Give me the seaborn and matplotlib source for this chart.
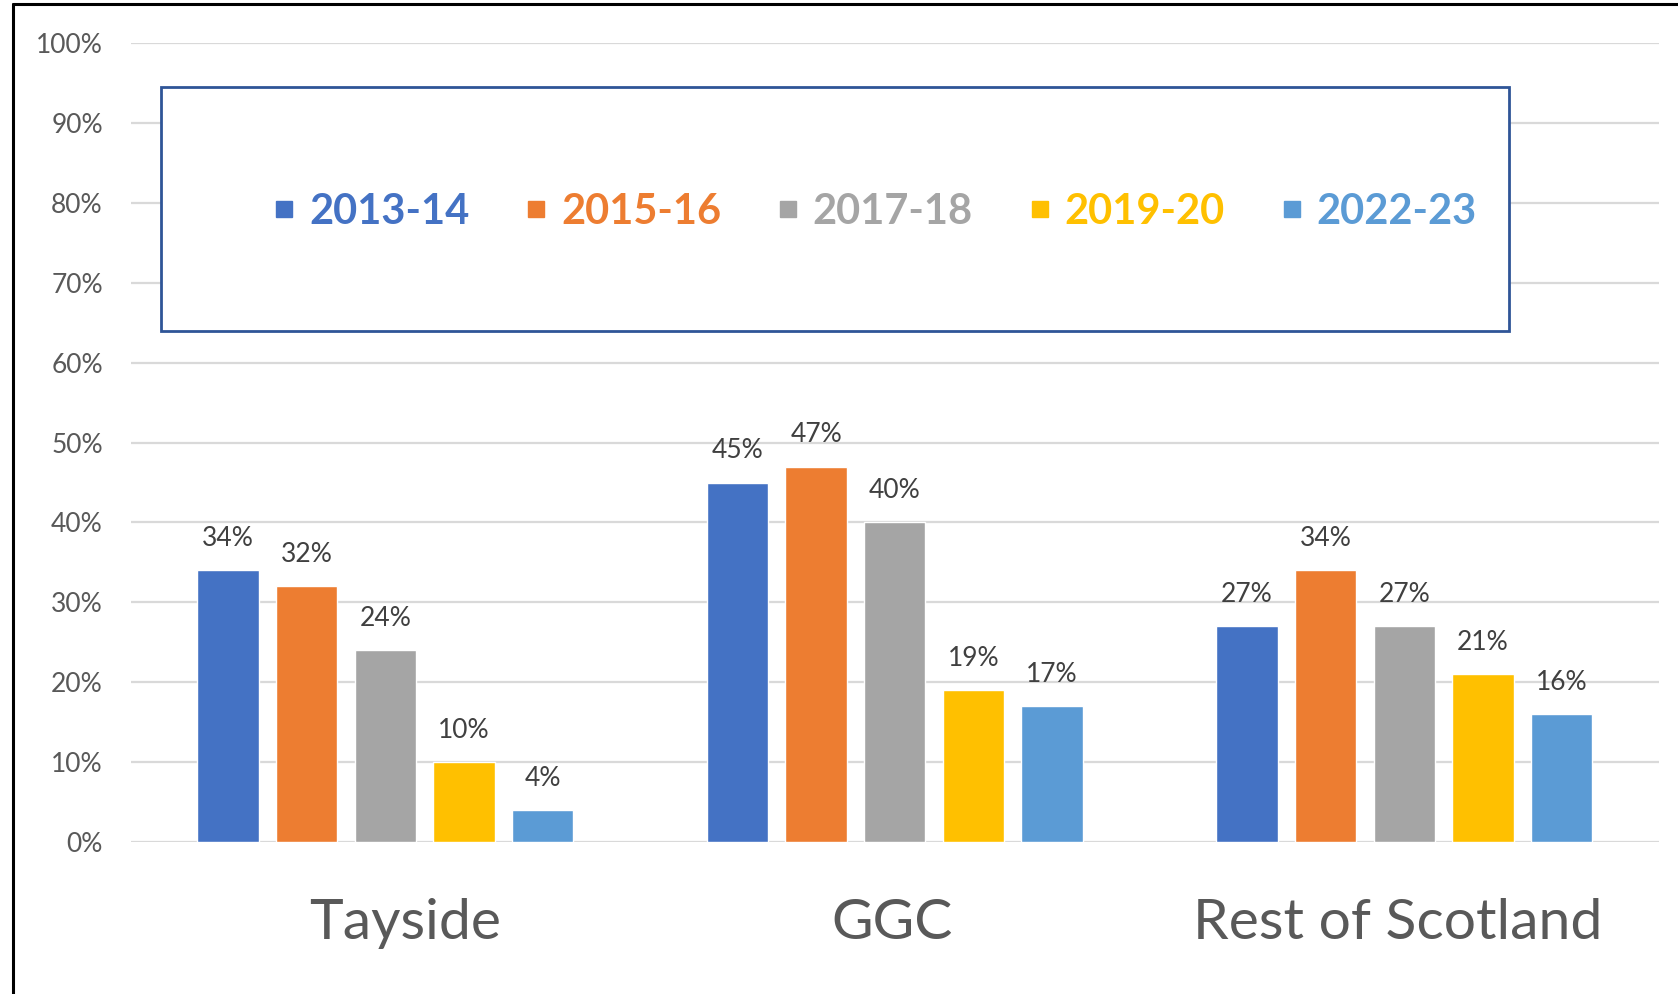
import matplotlib
matplotlib.use("Agg")
import matplotlib.pyplot as plt
import matplotlib.transforms as mtransforms
from matplotlib.lines import Line2D
from matplotlib.patches import Rectangle
import pandas as pd
import seaborn as sns

regions = ["Tayside", "GGC", "Rest of Scotland"]
years = ["2013-14", "2015-16", "2017-18", "2019-20", "2022-23"]
tayside = [34, 32, 24, 10, 4]
ggc = [45, 47, 40, 19, 17]
rest_of_scotland = [27, 34, 27, 21, 16]
colors = ["#4472C4", "#ED7D31", "#A5A5A5", "#FFC000", "#5B9BD5"]

rows = []
for region, vals in zip(regions, [tayside, ggc, rest_of_scotland]):
    for year, v in zip(years, vals):
        rows.append({"region": region, "year": year, "pct": v})
df = pd.DataFrame(rows)

sns.set_style("white")
plt.rcParams["font.family"] = ["Lato", "DejaVu Sans"]

fig = plt.figure(figsize=(16.78, 9.94), dpi=100)
ax = fig.add_axes([0.0778, 0.1526, 0.9109, 0.8044])

sns.barplot(
    data=df, x="region", y="pct", hue="year", hue_order=years, order=regions,
    palette=colors, width=0.772, gap=0.22, saturation=1, ax=ax, legend=False,
    zorder=3,
)

for cont in ax.containers:
    ax.bar_label(cont, fmt="%.0f%%", padding=14, fontsize=19, color="#404040")

ax.set_ylim(0, 100)
ax.set_xlim(-0.5, 2.5)
ax.set_yticks(range(0, 101, 10))
ax.set_yticklabels([f"{t}%" for t in range(0, 101, 10)])
ax.yaxis.grid(True, color="#D9D9D9", linewidth=1.6, zorder=0)
ax.set_axisbelow(True)
for s in ax.spines.values():
    s.set_visible(False)
ax.set_xlabel("")
ax.set_ylabel("")
ax.tick_params(axis="y", length=0, pad=20, labelsize=19, labelcolor="#595959")
ax.tick_params(axis="x", length=0, pad=40, labelsize=41, labelcolor="#595959")

# small nudges so the category labels sit where the original had them
for lbl, dx in zip(ax.get_xticklabels(), [20, -3, -7]):
    lbl.set_transform(lbl.get_transform() + mtransforms.Affine2D().translate(dx, 0))

# legend box
box = Rectangle((160.5 / 1678, 1 - 330.7 / 994), (1509 - 160.5) / 1678, (330.7 - 86.7) / 994,
                transform=fig.transFigure, facecolor="white", edgecolor="#2F5597",
                linewidth=2, zorder=5)
fig.add_artist(box)
handles = [Line2D([], [], marker="s", linestyle="none", markersize=12,
                  markerfacecolor=c, markeredgecolor=c) for c in colors]
leg = fig.legend(handles, years, loc="center", bbox_to_anchor=(0.521, 1 - 212 / 994),
                 ncol=5, frameon=False, prop={"weight": "bold", "size": 30},
                 handletextpad=0.3, columnspacing=1.3, handlelength=0.6)
for t, c in zip(leg.get_texts(), colors):
    t.set_color(c)
leg.set_zorder(6)

# outer frame
fig.add_artist(Line2D([12.8 / 1678, 12.8 / 1678], [0, 1 - 4.3 / 994], transform=fig.transFigure,
                      color="black", linewidth=2.2))
fig.add_artist(Line2D([12.8 / 1678, 1], [1 - 4.3 / 994, 1 - 4.3 / 994], transform=fig.transFigure,
                      color="black", linewidth=2.2))

fig.savefig("out.png", dpi=100)
